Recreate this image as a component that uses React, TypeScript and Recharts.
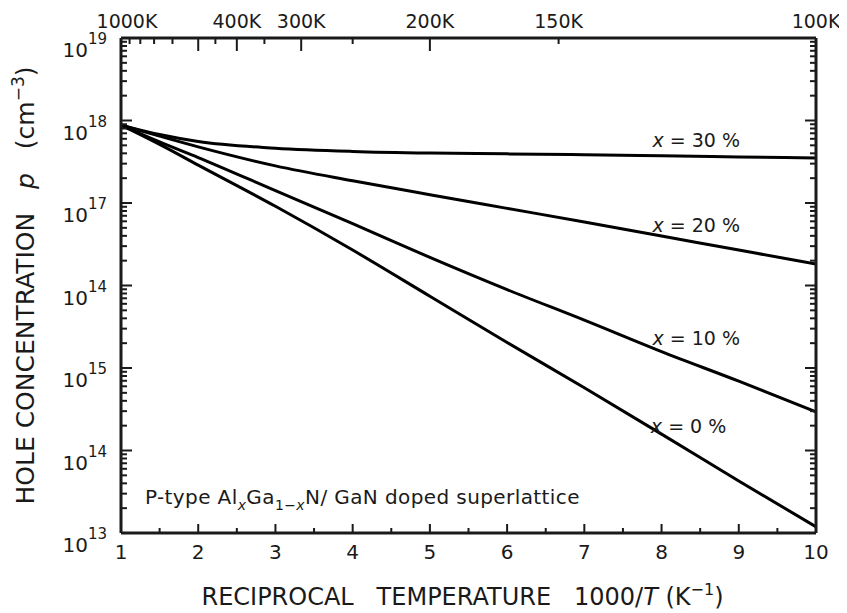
import React from 'react';
import { LineChart, Line, XAxis, YAxis, ReferenceDot } from 'recharts';

// reciprocal temperature 1000/T (K^-1)
const recipT = [1, 1.5, 2, 3, 4, 5, 6, 7, 8, 9, 10];
// hole concentration p (cm^-3) for each Al fraction
const p30 = [8.8e17, 6.76e17, 5.56e17, 4.62e17, 4.22e17, 4.03e17, 3.94e17, 3.85e17, 3.73e17, 3.61e17, 3.51e17];
const p20 = [8.8e17, 6.46e17, 4.79e17, 2.82e17, 1.86e17, 1.26e17, 8.61e16, 5.89e16, 3.98e16, 2.69e16, 1.82e16];
const p10 = [8.8e17, 5.5e17, 3.55e17, 1.41e17, 5.62e16, 2.19e16, 8.91e15, 3.8e15, 1.58e15, 6.92e14, 2.95e14];
const p0 = [8.8e17, 5.13e17, 2.88e17, 9.12e16, 2.69e16, 7.41e15, 2.04e15, 5.75e14, 1.58e14, 4.27e13, 1.19e13];

const seriesKeys = ['p30', 'p20', 'p10', 'p0'];
const seriesLabels = ['30', '20', '10', '0'];
// where each "x = .. %" label sits (1000/T, p)
const labelX = [8.45, 8.45, 8.45, 8.35];
const labelP = [5.8e17, 5.4e16, 2.3e15, 2.0e14];

const decades = [13, 14, 15, 16, 17, 18, 19];
const decadeLabels = ['13', '14', '15', '14', '17', '18', '19'];
const minorMult = [2, 3, 4, 5, 6, 7, 8, 9];

const bottomTicks = [1, 1.5, 2, 2.5, 3, 3.5, 4, 4.5, 5, 5.5, 6, 6.5, 7, 7.5, 8, 8.5, 9, 9.5, 10];
const topTemps = [1000, 900, 800, 700, 600, 500, 450, 400, 350, 300, 250, 200, 150, 100];
const topLabeled = [1000, 400, 300, 200, 150, 100];
const topLong = [1000, 500, 400, 300, 200, 100];

const rows = recipT.map((t, i) => ({ t, p30: p30[i], p20: p20[i], p10: p10[i], p0: p0[i] }));

const yTicks = decades.flatMap((d) =>
  d < 19 ? [Math.pow(10, d), ...minorMult.map((m) => m * Math.pow(10, d))] : [Math.pow(10, d)]
);
const topTicks = topTemps.map((T) => 1000 / T);

const CHART_W = 839;
const CHART_H = 605;
const LEFT_W = 113;
const RIGHT_W = 31;
const RIGHT_AXIS_X = CHART_W - RIGHT_W;

const FONT = 'DejaVu Sans, Liberation Sans, Arial, sans-serif';
const INK = '#1a1a1a';

const isDecade = (v: number) => Math.abs(Math.log10(v) - Math.round(Math.log10(v))) < 1e-6;

const LeftTick = (props: any) => {
  const x = Number(props.x);
  const y = Number(props.y);
  const v = props.payload.value;
  const major = isDecade(v);
  const idx = decades.indexOf(Math.round(Math.log10(v)));
  return (
    <g>
      <path d={`M${x},${y}H${x + (major ? 11 : 6)}`} stroke={INK} strokeWidth={2} fill="none" />
      {major && (
        <text x={x - 14} y={y + 19} textAnchor="end" fontFamily={FONT} fontSize={20} fill={INK}>
          <tspan>10</tspan>
          <tspan dy={-13} fontSize={15}>{decadeLabels[idx]}</tspan>
        </text>
      )}
    </g>
  );
};

// right-axis ticks point inward from the frame edge
const RightTick = (props: any) => {
  const y = Number(props.y);
  const major = isDecade(props.payload.value);
  return (
    <path
      d={`M${RIGHT_AXIS_X},${y}H${RIGHT_AXIS_X - (major ? 11 : 6)}`}
      stroke={INK}
      strokeWidth={2}
      fill="none"
    />
  );
};

const BottomTick = (props: any) => {
  const x = Number(props.x);
  const y = Number(props.y);
  const v = props.payload.value;
  const major = Number.isInteger(v);
  return (
    <g>
      <path d={`M${x},${y}V${y - (major ? 9 : 5)}`} stroke={INK} strokeWidth={2} fill="none" />
      {major && (
        <text x={x} y={y + 26} textAnchor="middle" fontFamily={FONT} fontSize={20} fill={INK}>
          {v}
        </text>
      )}
    </g>
  );
};

const TopTick = (props: any) => {
  const x = Number(props.x);
  const y = Number(props.y);
  const T = Math.round(1000 / props.payload.value);
  const long = topLong.includes(T);
  return (
    <g>
      <path d={`M${x},${y}V${y + (long ? 13 : 6)}`} stroke={INK} strokeWidth={2} fill="none" />
      {topLabeled.includes(T) && (
        <text x={x + (T === 1000 ? 6 : 0)} y={y - 10} textAnchor="middle" fontFamily={FONT} fontSize={19} fill={INK}>
          {T}K
        </text>
      )}
    </g>
  );
};

const YTitle = (props: any) => {
  const vb = props.viewBox;
  const cx = vb.x + 26;
  const cy = vb.y + vb.height / 2;
  return (
    <text
      x={cx}
      y={cy}
      transform={`rotate(-90 ${cx} ${cy})`}
      textAnchor="middle"
      fontFamily={FONT}
      fontSize={25}
      fill={INK}
      style={{ whiteSpace: 'pre' }}
    >
      <tspan>HOLE CONCENTRATION   </tspan>
      <tspan fontStyle="italic">p</tspan>
      <tspan>   (cm</tspan>
      <tspan dy={-10} fontSize={17}>−3</tspan>
      <tspan dy={10}>)</tspan>
    </text>
  );
};

const XTitle = (props: any) => {
  const vb = props.viewBox;
  const cx = vb.x + vb.width / 2 - 6;
  const cy = vb.y + 72;
  return (
    <text x={cx} y={cy} textAnchor="middle" fontFamily={FONT} fontSize={24} fill={INK} style={{ whiteSpace: 'pre' }}>
      <tspan>RECIPROCAL   TEMPERATURE   1000/</tspan>
      <tspan fontStyle="italic">T</tspan>
      <tspan> (K</tspan>
      <tspan dy={-10} fontSize={16}>−1</tspan>
      <tspan dy={10}>)</tspan>
    </text>
  );
};

const makeSeriesLabel = (pct: string) => (props: any) => {
  const vb = props.viewBox;
  const cx = vb.x + (vb.width || 0) / 2;
  const cy = vb.y + (vb.height || 0) / 2;
  return (
    <text x={cx} y={cy + 7} textAnchor="middle" fontFamily={FONT} fontSize={19} fill={INK} style={{ whiteSpace: 'pre' }}>
      <tspan fontStyle="italic">x</tspan>
      <tspan>{` = ${pct} %`}</tspan>
    </text>
  );
};

const NoteLabel = (props: any) => {
  const vb = props.viewBox;
  return (
    <text x={vb.x} y={vb.y + 7} fontFamily={FONT} fontSize={20} fill={INK} letterSpacing={0.4} style={{ whiteSpace: 'pre' }}>
      <tspan>P-type Al</tspan>
      <tspan dy={6} fontSize={14} fontStyle="italic">x</tspan>
      <tspan dy={-6}>Ga</tspan>
      <tspan dy={6} fontSize={14}>1−</tspan>
      <tspan fontSize={14} fontStyle="italic">x</tspan>
      <tspan dy={-6}>N/ GaN doped superlattice</tspan>
    </text>
  );
};

export default function App() {
  return (
    <div style={{ width: CHART_W, height: CHART_H, background: '#fff' }}>
      <LineChart width={CHART_W} height={CHART_H} data={rows} margin={{ top: 0, right: 0, bottom: 0, left: 0 }}>
        <XAxis
          xAxisId="bottom"
          dataKey="t"
          type="number"
          domain={[1, 10]}
          ticks={bottomTicks}
          interval={0}
          height={80}
          tickSize={0}
          tickMargin={0}
          tickLine={false}
          tick={<BottomTick />}
          axisLine={{ stroke: INK, strokeWidth: 3 }}
          allowDataOverflow
          label={{ content: XTitle }}
        />
        <XAxis
          xAxisId="top"
          orientation="top"
          dataKey="t"
          type="number"
          domain={[1, 10]}
          ticks={topTicks}
          interval={0}
          height={30}
          tickSize={0}
          tickMargin={0}
          tickLine={false}
          tick={<TopTick />}
          axisLine={{ stroke: INK, strokeWidth: 3 }}
          allowDataOverflow
        />
        <YAxis
          yAxisId="left"
          scale="log"
          type="number"
          domain={[1e13, 1e19]}
          ticks={yTicks}
          interval={0}
          width={LEFT_W}
          tickSize={0}
          tickMargin={0}
          tickLine={false}
          tick={<LeftTick />}
          axisLine={{ stroke: INK, strokeWidth: 3 }}
          allowDataOverflow
          label={{ content: YTitle }}
        />
        <YAxis
          yAxisId="right"
          orientation="right"
          scale="log"
          type="number"
          domain={[1e13, 1e19]}
          ticks={yTicks}
          interval={0}
          width={RIGHT_W}
          tickSize={0}
          tickMargin={0}
          tickLine={false}
          tick={<RightTick />}
          axisLine={{ stroke: INK, strokeWidth: 3 }}
          allowDataOverflow
        />
        {seriesKeys.map((k) => (
          <Line
            key={k}
            xAxisId="bottom"
            yAxisId="left"
            dataKey={k}
            type="monotone"
            stroke="#000"
            strokeWidth={3}
            dot={false}
            isAnimationActive={false}
          />
        ))}
        {seriesLabels.map((pct, i) => (
          <ReferenceDot
            key={pct}
            xAxisId="bottom"
            yAxisId="left"
            x={labelX[i]}
            y={labelP[i]}
            r={0}
            fill="none"
            stroke="none"
            label={{ content: makeSeriesLabel(pct) }}
          />
        ))}
        <ReferenceDot
          xAxisId="bottom"
          yAxisId="left"
          x={1.31}
          y={2.7e13}
          r={0}
          fill="none"
          stroke="none"
          label={{ content: NoteLabel }}
        />
      </LineChart>
    </div>
  );
}
